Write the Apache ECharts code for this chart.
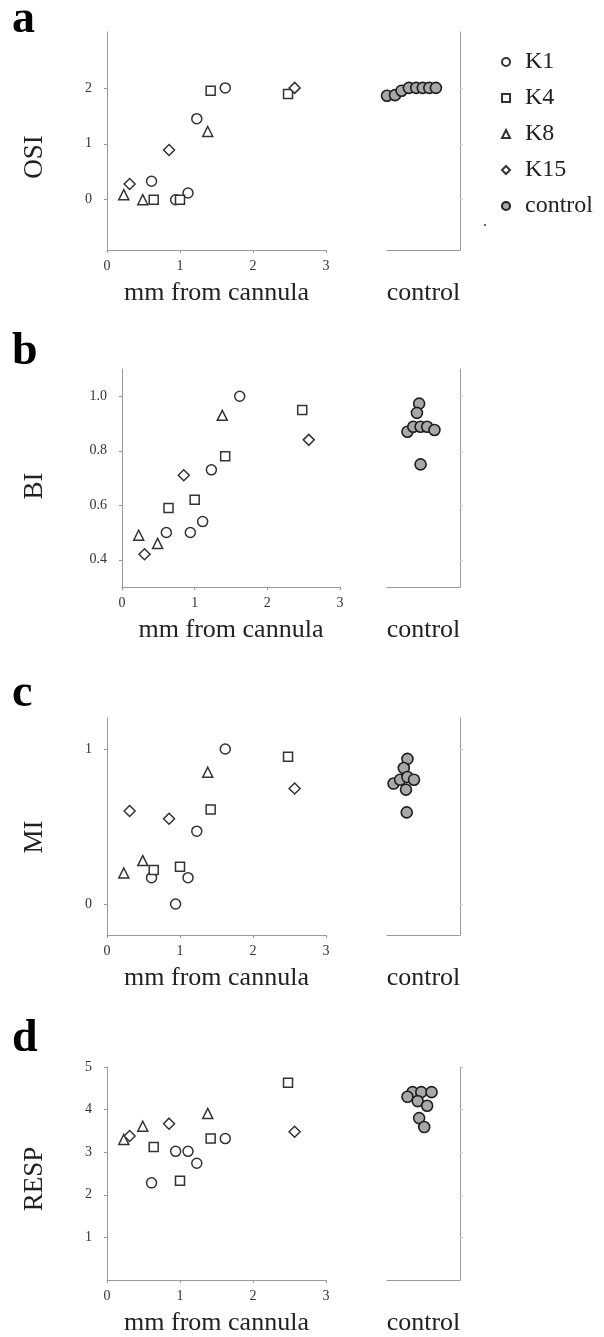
<!DOCTYPE html>
<html>
<head>
<meta charset="utf-8">
<script src="https://cdn.jsdelivr.net/npm/echarts@6/dist/echarts.min.js"></script>
<style>
  html, body { margin: 0; background: #fff; }
  #chart { width: 604px; height: 1337px; }
</style>
</head>
<body>
<div id="chart"></div>
<script>
// distance from cannula (mm) for each site, shared by all four panels
const distK1 = [0.61, 0.94, 1.11, 1.23, 1.62];
const distK4 = [0.64, 1.0, 1.42, 2.48];
const distK8 = [0.23, 0.49, 1.38];
const distK15 = [0.31, 0.85, 2.57];

// a - OSI
const osiK1 = [0.33, 0, 0.12, 1.45, 2.0];
const osiK4 = [0, 0, 1.95, 1.89];
const osiK8 = [0.09, 0, 1.22];
const osiK15 = [0.28, 0.89, 2.0];
const osiControl = [1.86, 1.87, 1.95, 2, 2, 2, 2, 2];
const osiSpread = [0.0, 0.11, 0.2, 0.3, 0.4, 0.49, 0.58, 0.67];

// b - BI
const biK1 = [0.5, 0.5, 0.54, 0.73, 1.0];
const biK4 = [0.59, 0.62, 0.78, 0.95];
const biK8 = [0.49, 0.46, 0.93];
const biK15 = [0.42, 0.71, 0.84];
const biControl = [0.973, 0.939, 0.87, 0.888, 0.888, 0.888, 0.876, 0.75];
const biSpread = [0.44, 0.41, 0.28, 0.36, 0.46, 0.55, 0.65, 0.46];

// c - MI
const miK1 = [0.17, 0, 0.17, 0.47, 1.0];
const miK4 = [0.22, 0.24, 0.61, 0.95];
const miK8 = [0.2, 0.28, 0.85];
const miK15 = [0.6, 0.55, 0.745];
const miControl = [0.936, 0.877, 0.777, 0.802, 0.819, 0.802, 0.738, 0.591];
const miSpread = [0.28, 0.23, 0.09, 0.18, 0.28, 0.37, 0.26, 0.27];

// d - RESP
const respK1 = [2.28, 3.02, 3.02, 2.74, 3.32];
const respK4 = [3.12, 2.33, 3.32, 4.63];
const respK8 = [3.3, 3.61, 3.91];
const respK15 = [3.38, 3.67, 3.48];
const respControl = [4.41, 4.41, 4.41, 4.3, 4.2, 4.09, 3.8, 3.59];
const respSpread = [0.35, 0.47, 0.61, 0.28, 0.42, 0.55, 0.44, 0.51];

// tick labels
const xTicks = [0, 1, 2, 3];
const osiTicks = [0, 1, 2];
const biTicks = [0.4, 0.6, 0.8, 1.0];
const miTicks = [0, 1];
const respTicks = [1, 2, 3, 4, 5];

const serif = '"Liberation Serif", "DejaVu Serif", serif';
const axisGray = '#9a9a9a';

const groups = [
  { name: 'K1', symbol: 'circle', size: 10, dist: distK1 },
  { name: 'K4', symbol: 'rect', size: 9, dist: distK4 },
  { name: 'K8', symbol: 'triangle', size: 10, dist: distK8 },
  { name: 'K15', symbol: 'diamond', size: 11, dist: distK15 },
];

const panels = [
  { letter: 'a', label: 'OSI', min: -0.9, max: 3, ticks: osiTicks,
    vals: [osiK1, osiK4, osiK8, osiK15], ctrl: osiControl, spread: osiSpread,
    left: 107, width: 219, top: 32, height: 218, letterY: 43, labelY: 157 },
  { letter: 'b', label: 'BI', min: 0.3, max: 1.1, ticks: biTicks, fmt: (v) => v.toFixed(1),
    vals: [biK1, biK4, biK8, biK15], ctrl: biControl, spread: biSpread,
    left: 122, width: 218, top: 369, height: 218, letterY: 375, labelY: 486 },
  { letter: 'c', label: 'MI', min: -0.2, max: 1.2, ticks: miTicks,
    vals: [miK1, miK4, miK8, miK15], ctrl: miControl, spread: miSpread,
    left: 107, width: 219, top: 718, height: 217, letterY: 717, labelY: 837 },
  { letter: 'd', label: 'RESP', min: 0, max: 5, ticks: respTicks,
    vals: [respK1, respK4, respK8, respK15], ctrl: respControl, spread: respSpread,
    left: 107, width: 219, top: 1067, height: 218, letterY: 1062, labelY: 1179 },
];

const grid = [], xAxis = [], yAxis = [], series = [], graphic = [];

panels.forEach((p, i) => {
  grid.push({ left: p.left, top: p.top, width: p.width, height: p.height });
  grid.push({ left: 387, top: p.top, width: 73, height: p.height });

  const nameStyle = { fontFamily: serif, fontSize: 26, color: '#222' };

  xAxis.push({
    type: 'value', gridIndex: 2 * i, min: 0, max: 3, interval: 1,
    name: 'mm from cannula', nameLocation: 'middle', nameGap: 30, nameTextStyle: nameStyle,
    axisLine: { onZero: false, lineStyle: { color: axisGray, width: 1 } },
    axisTick: { show: true, length: 3, lineStyle: { color: axisGray } },
    axisLabel: { fontFamily: serif, fontSize: 14, color: '#333', margin: 9, customValues: xTicks },
    splitLine: { show: false },
  });
  xAxis.push({
    type: 'value', gridIndex: 2 * i + 1, min: 0, max: 1,
    name: 'control', nameLocation: 'middle', nameGap: 30, nameTextStyle: nameStyle,
    axisLine: { onZero: false, lineStyle: { color: axisGray, width: 1 } },
    axisTick: { show: false }, axisLabel: { show: false }, splitLine: { show: false },
  });

  yAxis.push({
    type: 'value', gridIndex: 2 * i, min: p.min, max: p.max,
    axisLine: { show: true, onZero: false, lineStyle: { color: axisGray, width: 1 } },
    axisTick: { show: true, length: 3, lineStyle: { color: axisGray }, customValues: p.ticks },
    axisLabel: {
      fontFamily: serif, fontSize: 14, color: '#333', margin: 15,
      customValues: p.ticks, formatter: p.fmt || ((v) => String(v)),
    },
    splitLine: { show: false },
  });
  yAxis.push({
    type: 'value', gridIndex: 2 * i + 1, min: p.min, max: p.max, position: 'right',
    axisLine: { show: true, onZero: false, lineStyle: { color: axisGray, width: 1 } },
    axisTick: { show: true, length: 3, lineStyle: { color: '#ccc' }, customValues: p.ticks },
    axisLabel: { show: false },
    splitLine: { show: false },
  });

  groups.forEach((g, k) => {
    series.push({
      name: g.name, type: 'scatter', xAxisIndex: 2 * i, yAxisIndex: 2 * i,
      symbol: g.symbol, symbolSize: g.size,
      itemStyle: { color: '#fff', borderColor: '#333', borderWidth: 1.5, opacity: 1 },
      data: g.dist.map((d, j) => [d, p.vals[k][j]]),
    });
  });
  series.push({
    name: 'control', type: 'scatter', xAxisIndex: 2 * i + 1, yAxisIndex: 2 * i + 1,
    symbol: 'circle', symbolSize: 11,
    itemStyle: { color: '#a8a8a8', borderColor: '#1e1e1e', borderWidth: 1.6, opacity: 1 },
    data: p.spread.map((s, j) => [s, p.ctrl[j]]),
  });

  graphic.push({
    type: 'text', x: 12, y: p.letterY,
    style: { text: p.letter, font: 'bold 46px ' + serif, fill: '#000', textVerticalAlign: 'bottom' },
  });
  graphic.push({
    type: 'text', x: 35, y: p.labelY, rotation: Math.PI / 2,
    style: { text: p.label, font: '27px ' + serif, fill: '#222', textAlign: 'center', textVerticalAlign: 'middle' },
  });
});

// stray dot under the legend
graphic.push({ type: 'circle', shape: { cx: 485, cy: 225, r: 1 }, style: { fill: '#333' } });

const chart = echarts.init(document.getElementById('chart'));
chart.setOption({
  animation: false,
  backgroundColor: '#fff',
  grid, xAxis, yAxis, series, graphic,
  legend: {
    data: ['K1', 'K4', 'K8', 'K15', 'control'],
    orient: 'vertical', left: 496, top: 44,
    itemWidth: 8, itemHeight: 8, itemGap: 10,
    textStyle: { fontFamily: serif, fontSize: 24, lineHeight: 26, color: '#222', padding: [0, 0, 0, 10] },
  },
  tooltip: { show: false },
});
</script>
</body>
</html>
